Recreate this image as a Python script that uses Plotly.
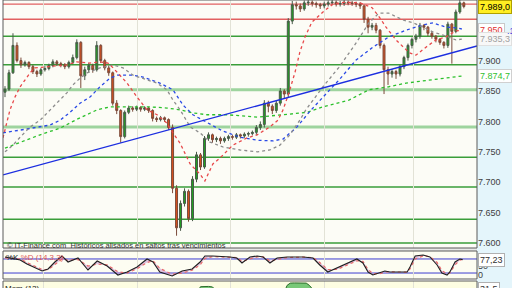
import plotly.graph_objects as go

# ---------------- data ----------------
idx = list(range(116))
O = [7848,7853,7880,7925,7900,7893,7897,7890,7882,7878,
     7885,7887,7892,7898,7895,7893,7890,7897,7905,7930,
     7875,7885,7892,7885,7925,7900,7888,7880,7830,7818,
     7775,7815,7822,7820,7823,7820,7822,7818,7805,7803,
     7806,7803,7790,7690,7625,7665,7685,7640,7705,7745,
     7725,7772,7778,7770,7772,7768,7772,7775,7774,7778,
     7776,7779,7780,7782,7790,7795,7830,7825,7818,7830,
     7850,7845,7965,7992,7990,7985,7995,7996,7994,7992,
     7990,7993,7995,7996,7993,7994,7996,7995,7994,7993,
     7990,7968,7955,7958,7950,7925,7885,7878,7882,7878,
     7890,7905,7925,7935,7940,7958,7955,7945,7940,7935,
     7930,7925,7960,7948,7980,7995]
Hh = [7858,7885,7945,7930,7905,7900,7899,7893,7885,7888,
      7891,7895,7902,7901,7898,7896,7900,7910,7935,7932,
      7890,7896,7895,7932,7927,7903,7892,7882,7835,7820,
      7818,7826,7825,7826,7825,7825,7824,7820,7808,7809,
      7808,7805,7795,7695,7670,7690,7688,7710,7750,7748,
      7776,7782,7780,7775,7775,7775,7778,7778,7781,7780,
      7782,7783,7785,7794,7800,7835,7834,7828,7834,7855,
      7853,7970,7998,7997,7994,7999,8000,7999,7997,7995,
      7997,7999,8000,7999,7998,8000,7999,7998,7997,7996,
      7992,7972,7962,7962,7952,7928,7890,7886,7885,7893,
      7908,7928,7938,7944,7962,7960,7957,7948,7942,7937,
      7932,7964,7962,7984,8002,7997]
Ll = [7840,7850,7878,7897,7888,7890,7886,7878,7873,7875,
      7882,7884,7889,7891,7889,7886,7887,7894,7902,7855,
      7868,7880,7880,7882,7896,7884,7875,7826,7812,7765,
      7772,7812,7816,7817,7816,7817,7814,7800,7799,7800,
      7799,7786,7682,7612,7620,7660,7635,7636,7700,7720,
      7722,7768,7765,7766,7763,7765,7768,7770,7771,7772,
      7773,7775,7777,7778,7786,7790,7815,7812,7814,7826,
      7838,7840,7960,7984,7980,7982,7990,7989,7987,7985,
      7986,7989,7991,7989,7989,7990,7991,7990,7988,7985,
      7962,7945,7950,7945,7920,7845,7860,7872,7870,7874,
      7886,7900,7920,7930,7936,7950,7940,7936,7930,7926,
      7920,7921,7895,7945,7977,7986]
C = [7853,7880,7925,7900,7893,7897,7890,7882,7878,7885,
     7887,7892,7898,7895,7893,7890,7897,7905,7930,7875,
     7885,7892,7885,7925,7900,7888,7880,7830,7818,7775,
     7815,7822,7820,7823,7820,7822,7818,7805,7803,7806,
     7803,7790,7690,7625,7665,7685,7640,7705,7745,7725,
     7772,7778,7770,7772,7768,7772,7775,7774,7778,7776,
     7779,7780,7782,7790,7795,7830,7825,7818,7830,7850,
     7845,7965,7992,7990,7985,7995,7996,7994,7992,7990,
     7993,7995,7996,7993,7994,7996,7995,7994,7993,7990,
     7968,7955,7958,7950,7925,7885,7878,7882,7878,7890,
     7905,7925,7935,7940,7958,7955,7945,7940,7935,7930,
     7925,7960,7948,7980,7995,7989.0]

red_x = [-0.5,1.25,2.5,3.8,5.0,6.3,7.5,9.5,12.5,15.5,18.0,21.3,23.8,25.8,27.1,28.8,30.6,33.1,35.6,38.1,
         40.6,42.1,43.9,46.4,48.9,50.1,52.1,53.9,57.1,60.7,63.2,66.4,68.4,69.7,71.2,72.7,73.9,75.2,76.9,79.7,
         82.2,85.2,89.0,92.0,94.0,95.5,98.0,101.3,103.0,105.5,108.0,110.5,113.0,114.5]
red_y = [7773,7819,7840,7857,7868,7880,7888,7889,7891,7893,7898,7896,7898,7896,7888,7876,7863,7840,7819,7811,
         7797,7781,7764,7730,7713,7702,7730,7740,7761,7773,7778,7791,7802,7819,7848,7881,7914,7939,7963,7980,
         7993,7996,7995,7987,7970,7955,7934,7913,7909,7922,7934,7939,7949,7950]
gray_x = [0,2.0,3.8,6.3,8.8,11.3,13.8,15.5,17.0,18.8,20.6,23.8,27.1,29.6,32.1,34.6,38.1,40.6,42.1,43.9,
          46.4,48.9,51.4,54.6,58.9,63.2,66.4,68.9,71.4,73.9,75.4,79.7,83.7,88.0,91.2,93.7,96.2,99.7,102.3,104.8,
          107.3,109.8,113.0,114.5]
gray_y = [7750,7761,7774,7791,7802,7819,7835,7847,7860,7871,7880,7888,7893,7888,7876,7871,7863,7852,7835,7819,
          7791,7781,7766,7758,7753,7750,7753,7761,7778,7802,7819,7857,7889,7929,7962,7978,7978,7967,7962,7955,
          7947,7942,7934,7935.3]
blue_x = [-0.5,1.3,6.3,11.3,13.8,16.3,18.8,21.3,23.8,26.3,28.1,32.1,34.6,38.8,42.1,44.6,47.1,49.6,52.1,54.6,
          58.9,63.2,67.2,69.7,73.2,76.2,79.7,83.7,88.0,92.2,96.2,100.5,104.8,107.3,110.5,113.0,114.5]
blue_y = [7781,7783,7789,7794,7802,7815,7830,7840,7857,7871,7876,7876,7873,7863,7852,7827,7811,7802,7792,7784,
          7774,7769,7768,7771,7791,7815,7840,7868,7901,7922,7939,7950,7959,7962,7955,7954,7952]
green_x = [0,3.8,8.8,13.8,18.8,23.1,26.3,32.1,36.3,40.6,43.9,47.1,50.6,55.6,63.2,69.7,75.7,79.7,86.2,91.2,
           96.2,100.5,106.3,113.0,114.5]
green_y = [7756,7766,7778,7789,7806,7819,7824,7824,7824,7822,7819,7814,7811,7811,7807,7811,7815,7824,7835,7852,
           7857,7863,7868,7873,7874.7]
trend_x = [-0.5, 118.3]
trend_y = [7712, 7924]

red_levels = [7993, 7968]
green_levels = [7940, 7893, 7741, 7692, 7639, 7600]
light_levels = [7852, 7791]
price_ticks = [7600, 7650, 7700, 7750, 7800, 7850, 7900]
grid_x = [9.77, 33.3, 56.6, 80.0, 102.5]

k_x = [0,3.8,5.5,7.5,9.3,10.8,12.5,14.3,15.8,18.3,20.8,23.1,25.6,28.3,30.6,33.1,35.6,37.1,38.8,41.9,
       44.4,46.9,48.9,50.1,52.1,56.4,58.1,59.4,61.4,63.2,64.7,66.4,68.2,70.7,74.7,77.2,78.9,80.9,83.2,85.2,
       88.2,89.7,91.0,92.2,94.0,95.2,96.5,99.0,100.8,101.5,102.8,104.8,106.5,108.3,109.5,110.8,111.5,112.8,114.0,114.7]
k_val = [88.5,75.6,58.5,41.5,28.6,37.2,67.1,92.7,67.1,84.2,32.9,71.4,50.0,11.5,24.4,45.7,79.9,67.1,24.4,7.3,
         28.6,37.2,67.1,92.7,92.7,88.5,84.2,62.8,88.5,92.7,88.5,62.8,84.2,88.5,88.5,84.2,54.3,24.4,41.5,58.5,
         79.9,62.8,24.4,11.5,20.1,28.6,24.4,24.4,24.4,45.7,92.7,97.0,88.5,54.3,20.1,11.5,24.4,67.1,79.9,77.23]
d_val = [85,80,65,48,35,34,55,80,75,78,50,58,55,25,20,38,65,72,40,15,
         20,32,55,82,90,89,86,70,80,89,89,72,78,86,88,86,65,35,35,50,
         72,70,35,18,17,25,25,24,24,38,80,93,90,65,30,16,20,55,75,78]
stoch_levels = [20, 80]
stoch_ticks = [14, 50]
stoch_ticktext = ["0", "50"]

mom_x = [40,46,48,49,50,51,52,53,56,64,68,70,70.7,71.5,72.5,73.5,74.5,75.5,76.3,77,80]
mom_y = [10,18,26,33.5,34,33.8,33.2,26,15,12,20,27,35,37.6,37.8,37.7,37.8,37.6,35,28,15]
mom_last = 31.5

# ---------------- helpers ----------------
W, HH = 512, 288
def fx(p): return p / W
def fy(p): return 1 - p / HH
def es(v, d):
    s = f"{v:,.{d}f}"
    return s.replace(",", "X").replace(".", ",").replace("X", ".")

X0, X1 = fx(3), fx(477)
FONT = "Liberation Sans, Arial, sans-serif"

fig = go.Figure()

fig.add_trace(go.Candlestick(
    x=idx, open=O, high=Hh, low=Ll, close=C,
    increasing=dict(line=dict(color="#4a5a4a", width=1), fillcolor="#22a022"),
    decreasing=dict(line=dict(color="#7a4a3a", width=1), fillcolor="#d8501e"),
    whiskerwidth=0, showlegend=False, hoverinfo="skip", xaxis="x", yaxis="y"))

def dotted(xs, ys, col):
    fig.add_trace(go.Scatter(x=xs, y=ys, mode="lines", line=dict(color=col, width=1.3, dash="dot"),
                             showlegend=False, hoverinfo="skip", xaxis="x", yaxis="y"))
dotted(green_x, green_y, "#2cc02c")
dotted(blue_x, blue_y, "#2a4ae6")
dotted(gray_x, gray_y, "#8c8c8c")
dotted(red_x, red_y, "#e8484a")

fig.add_trace(go.Scatter(x=trend_x, y=trend_y, mode="lines", line=dict(color="#1c2ee0", width=1.4),
                         showlegend=False, hoverinfo="skip", xaxis="x", yaxis="y"))

fig.add_trace(go.Scatter(x=k_x, y=d_val, mode="lines", line=dict(color="#e86a6a", width=1.2, dash="dot"),
                         showlegend=False, hoverinfo="skip", xaxis="x", yaxis="y2"))
fig.add_trace(go.Scatter(x=k_x, y=k_val, mode="lines", line=dict(color="#202020", width=1.1),
                         fill="tonexty", fillcolor="rgba(200,150,210,0.55)",
                         showlegend=False, hoverinfo="skip", xaxis="x", yaxis="y2"))

fig.add_trace(go.Scatter(x=mom_x, y=mom_y, mode="lines", line=dict(color="#2a6a2a", width=1),
                         fill="tozeroy", fillcolor="#78c878",
                         showlegend=False, hoverinfo="skip", xaxis="x", yaxis="y3"))

shapes = []
shapes.append(dict(type="rect", xref="paper", yref="paper", x0=0, x1=1, y0=0, y1=1,
                   fillcolor="#ffffff", line=dict(width=0), layer="below"))
shapes.append(dict(type="rect", xref="paper", yref="paper", x0=X1, x1=1, y0=0, y1=1,
                   fillcolor="#e4f5fb", line=dict(width=0), layer="below"))
shapes.append(dict(type="rect", xref="paper", yref="paper", x0=X0, x1=X1, y0=fy(248), y1=1,
                   fillcolor="#fcfcf6", line=dict(width=0), layer="below"))
shapes.append(dict(type="rect", xref="paper", yref="paper", x0=X0, x1=X1, y0=fy(279), y1=fy(251),
                   fillcolor="#fdfdf2", line=dict(width=0), layer="below"))
shapes.append(dict(type="rect", xref="paper", yref="paper", x0=X0, x1=X1, y0=0, y1=fy(281),
                   fillcolor="#fdfde2", line=dict(width=0), layer="below"))
shapes.append(dict(type="rect", xref="paper", yref="paper", x0=X0, x1=X1, y0=fy(251), y1=fy(248),
                   fillcolor="#e8e8e8", line=dict(width=0), layer="below"))
for v in red_levels:
    shapes.append(dict(type="line", xref="paper", yref="y", x0=X0, x1=X1, y0=v, y1=v,
                       line=dict(color="#e26060", width=1.3), layer="below"))
for v in green_levels:
    shapes.append(dict(type="line", xref="paper", yref="y", x0=X0, x1=X1, y0=v, y1=v,
                       line=dict(color="#3a9e3a", width=1.5), layer="below"))
for v in light_levels:
    shapes.append(dict(type="line", xref="paper", yref="y", x0=X0, x1=X1, y0=v, y1=v,
                       line=dict(color="#9ed49e", width=3), layer="below"))
for v in stoch_levels:
    shapes.append(dict(type="line", xref="paper", yref="y2", x0=X0, x1=X1, y0=v, y1=v,
                       line=dict(color="#3c3cd0", width=1), layer="below"))
for (a, b) in [(248, 0), (279, 251), (290, 281)]:
    shapes.append(dict(type="rect", xref="paper", yref="paper", x0=X0, x1=X1, y0=fy(a), y1=fy(b),
                       fillcolor="rgba(0,0,0,0)", line=dict(color="#5a5a5a", width=1), layer="above"))

ann = []
def box(y, yref, text, fc, bg, bc, yanchor="middle"):
    ann.append(dict(xref="paper", x=fx(478), xanchor="left", yref=yref, y=y, yanchor=yanchor,
                    text=text, showarrow=False, font=dict(family=FONT, size=9, color=fc),
                    bgcolor=bg, bordercolor=bc, borderwidth=1, borderpad=1))
box(C[-1], "y", es(C[-1], 1), "#000000", "#ffee22", "#b0a000")
box(red_y[-1], "y", es(red_y[-1], 0), "#e03030", "#ffffff", "#c8c8c8")
box(gray_y[-1], "y", es(gray_y[-1], 1), "#a0a0a0", "#f8f8f8", "#e0e0e0")
box(green_y[-1], "y", es(green_y[-1], 1), "#30c030", "#ffffff", "#d0d0d0")
box(k_val[-1], "y2", es(k_val[-1], 2), "#303030", "#ffffff", "#b0b0b0")
box(fy(282), "paper", es(mom_last, 1), "#303030", "#ffffff", "#b0b0b0", yanchor="top")
ann.append(dict(xref="paper", x=fx(505), xanchor="left", yref="y", y=blue_y[-1] - 3, yanchor="middle",
                text=".1", showarrow=False, font=dict(family=FONT, size=9, color="#3040e0")))
ann.append(dict(xref="paper", x=fx(5), xanchor="left", yref="paper", y=fy(245.5), yanchor="middle",
                text="© IT-Finance.com  Históricos alisados en saltos tras vencimientos", showarrow=False,
                font=dict(family=FONT, size=7.5, color="#333333")))
ann.append(dict(xref="paper", x=fx(4), xanchor="left", yref="paper", y=fy(257), yanchor="middle",
                text="<span style='color:#202020'>%K</span> <span style='color:#e05a5a'>%D (14,3,3)</span>",
                showarrow=False, font=dict(family=FONT, size=8)))
ann.append(dict(xref="paper", x=fx(3), xanchor="left", yref="paper", y=fy(282), yanchor="top",
                text="Mom (12)", showarrow=False, font=dict(family=FONT, size=8, color="#202020")))

fig.update_layout(
    width=W, height=HH, autosize=False, margin=dict(l=0, r=0, t=0, b=0),
    paper_bgcolor="rgba(0,0,0,0)", plot_bgcolor="rgba(0,0,0,0)",
    separators=",.", showlegend=False, shapes=shapes, annotations=ann,
    font=dict(family=FONT),
    xaxis=dict(domain=[X0, X1], range=[-0.5, 118.3], showticklabels=False, ticks="",
               tickvals=grid_x, showgrid=True, gridcolor="#e2e2d6", gridwidth=1,
               zeroline=False, showline=False, rangeslider=dict(visible=False), fixedrange=True),
    yaxis=dict(domain=[fy(248), 1], range=[7591.8, 7999.7], side="right", anchor="x",
               tickvals=price_ticks, tickformat=",d", showgrid=False, zeroline=False, ticks="",
               tickfont=dict(family=FONT, size=9, color="#404040")),
    yaxis2=dict(domain=[fy(279), fy(251)], range=[-5.55, 114.1], side="right", anchor="x",
                tickvals=stoch_ticks, ticktext=stoch_ticktext, showgrid=False, zeroline=False, ticks="",
                tickfont=dict(family=FONT, size=9, color="#404040")),
    yaxis3=dict(domain=[0, fy(281)], range=[32, 40], side="right", anchor="x",
                showticklabels=False, showgrid=False, zeroline=False, ticks=""),
)

fig.write_html("out.html")
